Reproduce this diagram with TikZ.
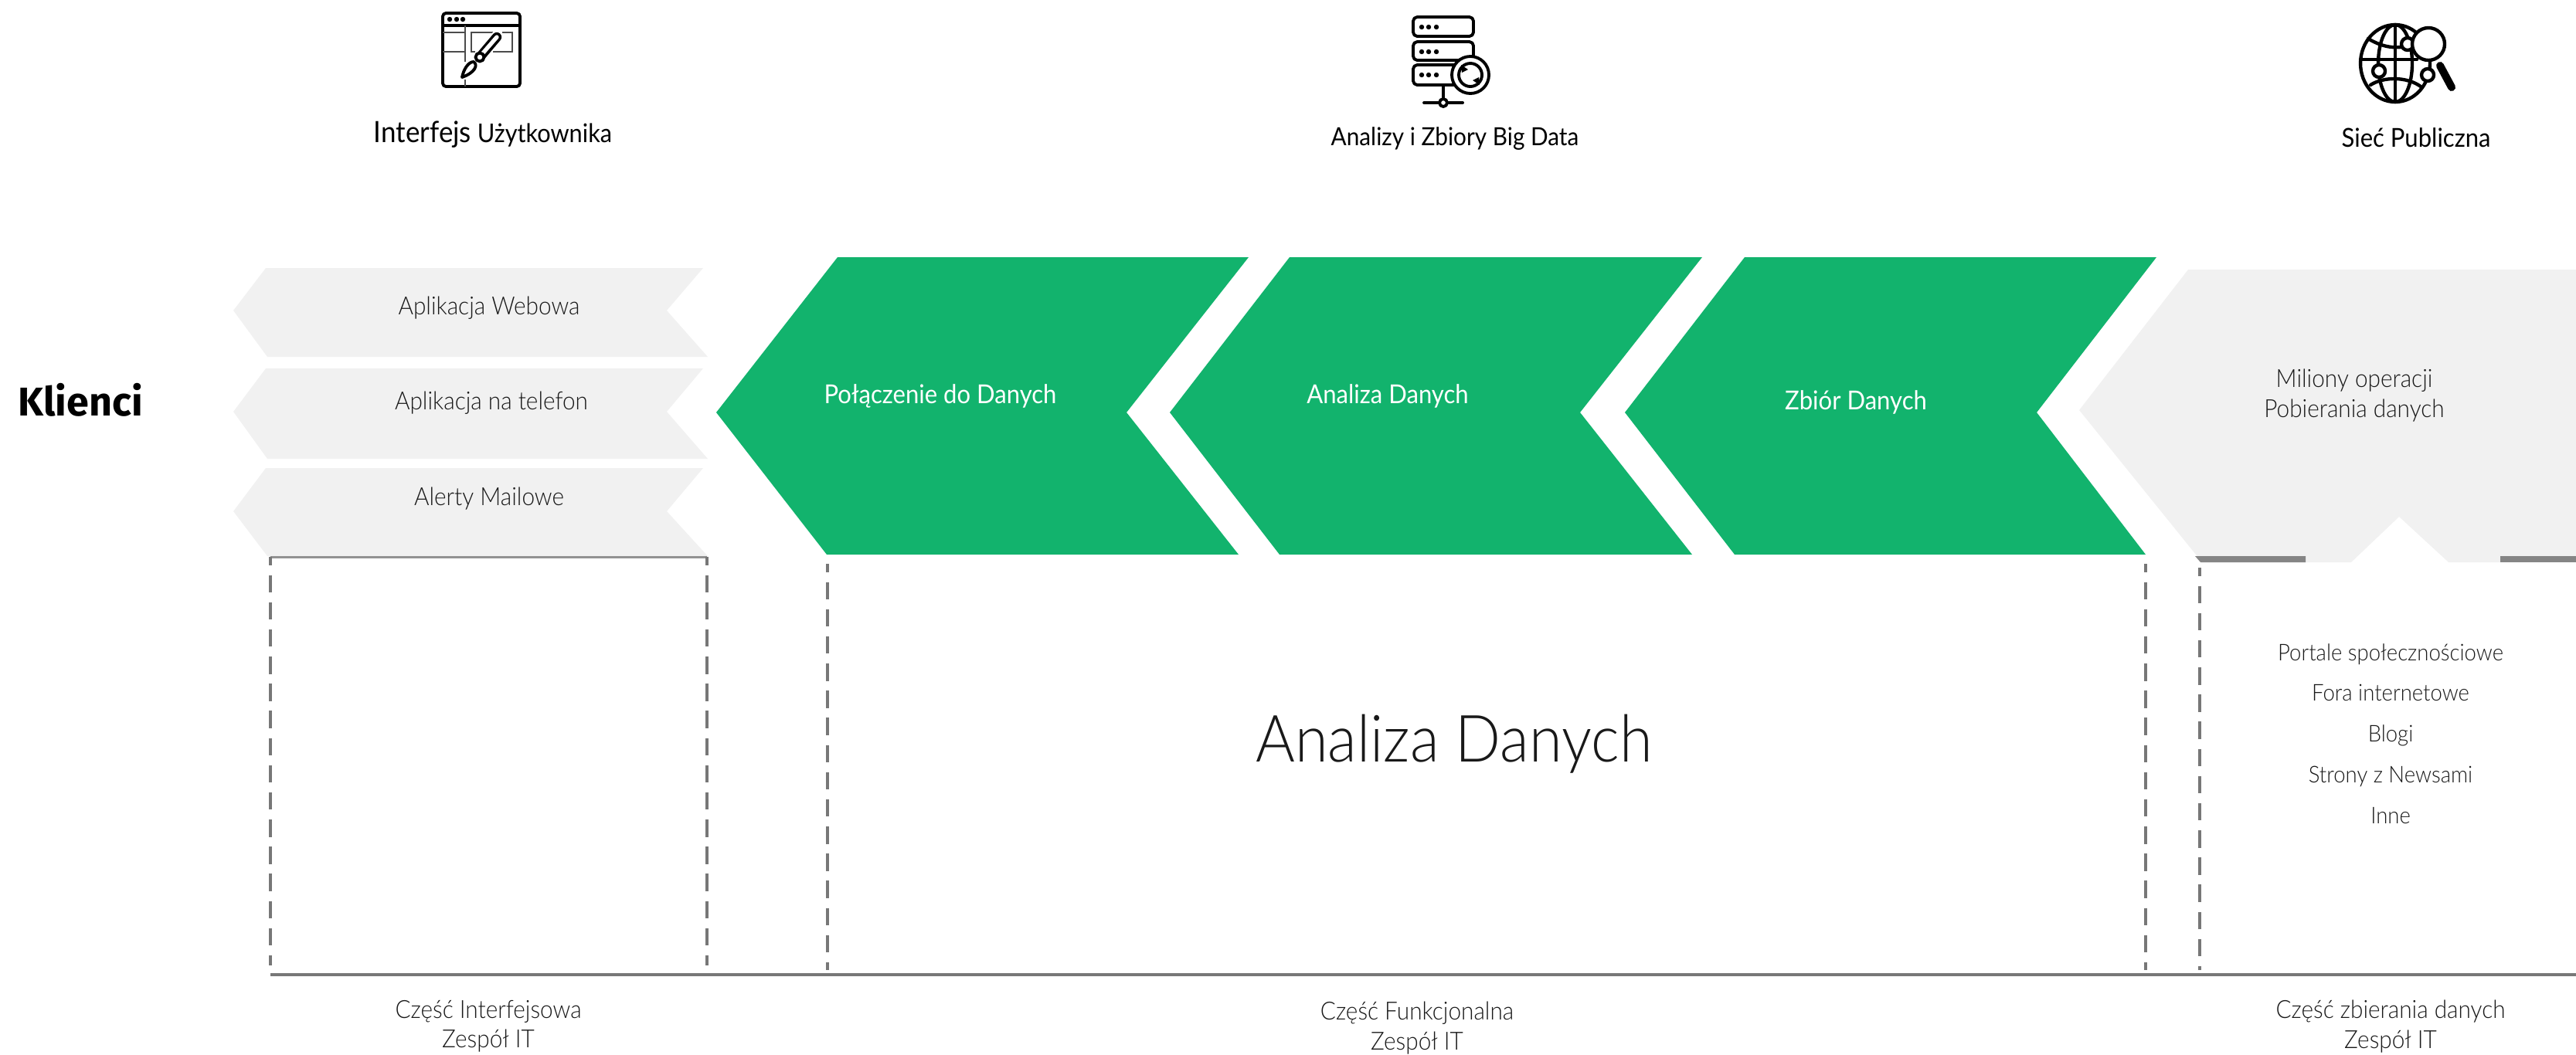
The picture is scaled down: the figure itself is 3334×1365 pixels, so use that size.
\documentclass[tikz,border=0pt]{standalone}
\usepackage{fontspec}
\setmainfont[FakeStretch=0.92]{Lato Light}
\newfontfamily\regf[FakeStretch=0.92]{Lato}
\newfontfamily\boldf{Fira Sans Bold}
\definecolor{grn}{HTML}{12B36D}
\definecolor{lgt}{HTML}{F1F1F1}
\definecolor{dgr}{HTML}{777777}
\tikzset{
 x=0.01cm,y=-0.01cm,
 lightshape/.style={fill=lgt,draw=none},
 greenshape/.style={fill=grn,draw=none},
 txt/.style={align=center,inner sep=0pt,text=black!90,font=\fontsize{9.2}{10.6}\selectfont},
 listtxt/.style={txt,font=\fontsize{8.5}{10}\selectfont},
 wtxt/.style={align=center,inner sep=0pt,text=white,font=\regf\fontsize{9.6}{10.6}\selectfont},
 head/.style={align=center,inner sep=0pt,text=black,font=\regf\fontsize{9.5}{11}\selectfont},
 dashline/.style={draw=dgr,line width=0.95pt,dash pattern=on 6.4pt off 3.6pt,dash phase=3.3pt},
 icon/.style={draw=black,line width=1.1pt,line cap=round,line join=round},
 iconthin/.style={draw=black!70,line width=0.75pt,line cap=butt},
}
\begin{document}
\begin{tikzpicture}
\useasboundingbox (0,0) rectangle (3334,1365);
% light chevrons
\fill[lightshape] (344,347)--(910,347)--(863,402)--(916,462)--(346,462)--(302,402)--cycle;
\fill[lightshape] (344,477)--(910,477)--(863,533)--(916,594)--(346,594)--(302,533)--cycle;
\fill[lightshape] (344,606)--(910,606)--(863,662)--(916,720)--(346,720)--(302,662)--cycle;
% green chevrons
\fill[greenshape] (1084,333)--(1616,333)--(1458,534)--(1603,718)--(1070,718)--(927,534)--cycle;
\fill[greenshape] (1669,333)--(2203,333)--(2045,534)--(2190,718)--(1656,718)--(1514,534)--cycle;
\fill[greenshape] (2258,333)--(2791,333)--(2636,534)--(2777,718)--(2245,718)--(2103,534)--cycle;
% right shape
\fill[lightshape] (2832,349)--(3334,349)--(3334,728)--(3169,728)--(3105,669)--(3043,728)--(2850,728)--(2691,531)--cycle;
\fill[dgr!90] (2841,720)--(2984,720)--(2984,728)--(2848,728)--cycle;
\fill[dgr!90] (3236,720)--(3334,720)--(3334,728)--(3236,728)--cycle;
% guide lines
\coordinate (a1) at (350,721); \coordinate (a2) at (915,721);
\coordinate (a3) at (1071,730); \coordinate (a4) at (2777,730); \coordinate (a5) at (2847,735);
\coordinate (b1) at (350,1250); \coordinate (b2) at (915,1250);
\coordinate (b3) at (1071,1256); \coordinate (b4) at (2777,1256); \coordinate (b5) at (2847,1256);
\coordinate (l1) at (350,1262); \coordinate (bend) at (3334,1262);
\draw[draw=dgr!80,line width=0.85pt] (a1)--(a2);
\draw[dashline] (a1)--(b1);
\draw[dashline] (a2)--(b2);
\draw[dashline] (a3)--(b3);
\draw[dashline] (a4)--(b4);
\draw[dashline] (a5)--(b5);
\draw[draw=dgr,line width=1.2pt] (l1)--(bend);
% texts
\node[inner sep=0pt,text=black,font=\boldf\fontsize{14.8}{16}\selectfont] (klienci) at (104,518) {Klienci};
\node[head] (h1) at (638,174) {{\fontsize{10.8}{12}\selectfont Interfejs} Użytkownika};
\node[head,font=\regf\fontsize{9.2}{11}\selectfont] (h2) at (1883,180) {Analizy i Zbiory Big Data};
\node[head,font=\regf\fontsize{9.6}{11}\selectfont] (h3) at (3127,178) {Sieć Publiczna};
\node[txt] (c1) at (633,399) {Aplikacja Webowa};
\node[txt] (c2) at (636,522) {Aplikacja na telefon};
\node[txt] (c3) at (633,646) {Alerty Mailowe};
\node[wtxt] (g1) at (1217,513) {Połączenie do Danych};
\node[wtxt] (g2) at (1796,513) {Analiza Danych};
\node[wtxt] (g3) at (2402,521) {Zbiór Danych};
\node[txt] (r0) at (3047,512) {Miliony operacji\\[0.6pt]Pobierania danych};
\node[listtxt] (r1) at (3094,847) {Portale społecznościowe};
\node[listtxt] (r2) at (3094,897) {Fora internetowe};
\node[listtxt] (r3) at (3094,952) {Blogi};
\node[listtxt] (r4) at (3094,1005) {Strony z Newsami};
\node[listtxt] (r5) at (3094,1056) {Inne};
\node[txt,font=\fontsize{24}{28}\selectfont] (big) at (1882,963) {Analiza Danych};
\node[txt] (f1) at (632,1329) {Część Interfejsowa\\[0.3pt]Zespół IT};
\node[txt] (f2) at (1834,1331) {Część Funkcjonalna\\[0.3pt]Zespół IT};
\node[txt] (f3) at (3094,1329) {Część zbierania danych\\[0.3pt]Zespół IT};
% icon 1
\draw[icon,rounded corners=1.2pt] (573,17) rectangle (673,112);
\draw[icon] (573,33)--(673,33);
\fill[black] (582,25) circle (3.2) (591,25) circle (3.2) (599,25) circle (3.2);
\draw[iconthin] (602,33)--(602,80) (602,103)--(602,112);
\draw[iconthin] (573,42)--(602,42) (573,67)--(602,67);
\draw[iconthin] (638,42)--(610,42)--(610,67)--(615,67) (638,67)--(663,67)--(663,42)--(650,42);
\draw[line width=4.6pt,draw=white,line cap=round] (621,74)--(643,48);
\draw[line width=3.5pt,draw=black,line cap=round] (621,74)--(643,48);
\draw[line width=1.5pt,draw=white,line cap=round] (623,71)--(643,48);
\draw[icon,fill=white] (621,74) circle (5.5);
\draw[icon,fill=white] (598,100) .. controls (600,90) and (606,80) .. (613,80) .. controls (619,84) and (615,94) .. cycle;
% icon 2
\foreach \yy/\hh in {22/25,54/24,84/26}{
  \draw[icon,rounded corners=1.5pt] (1829,\yy) rectangle (1907,\yy+\hh);
}
\foreach \yy in {35,67,97}{
  \fill[black] (1840,\yy) circle (3.2) (1849,\yy) circle (3.2) (1859,\yy) circle (3.2);
}
\draw[icon,fill=white] (1903,97) circle (24);
\draw[icon] (1903,97) circle (15);
\fill[black] (1891,84)--(1900,90)--(1892,94)--cycle (1915,110)--(1906,104)--(1914,100)--cycle;
\draw[icon] (1868,110)--(1868,133) (1843,133)--(1893,133);
\draw[icon,fill=white] (1868,133) circle (5);
% icon 3
\draw[icon,line width=1.25pt] (3100,82) ellipse (45 and 50);
\draw[icon,line width=1.25pt] (3100,82) ellipse (22 and 50);
\draw[icon,line width=1.25pt] (3100,32)--(3100,132) (3055,77)--(3128,77);
\draw[icon,line width=1.25pt] (3065,50) .. controls (3078,58) and (3095,64) .. (3113,60);
\draw[icon,line width=1.25pt] (3068,110) .. controls (3085,99) and (3115,99) .. (3133,112);
\draw[icon,line width=1.25pt,fill=white] (3079,92) circle (8);
\draw[icon,line width=1.25pt,fill=white] (3142,97) circle (8);
\draw[icon,line width=1.25pt,fill=white] (3116,57) circle (8);
\draw[icon,line width=1.25pt,fill=white] (3143,57) circle (21);
\draw[icon,line width=2.85pt] (3158,85)--(3173,113);
\end{tikzpicture}
\end{document}
